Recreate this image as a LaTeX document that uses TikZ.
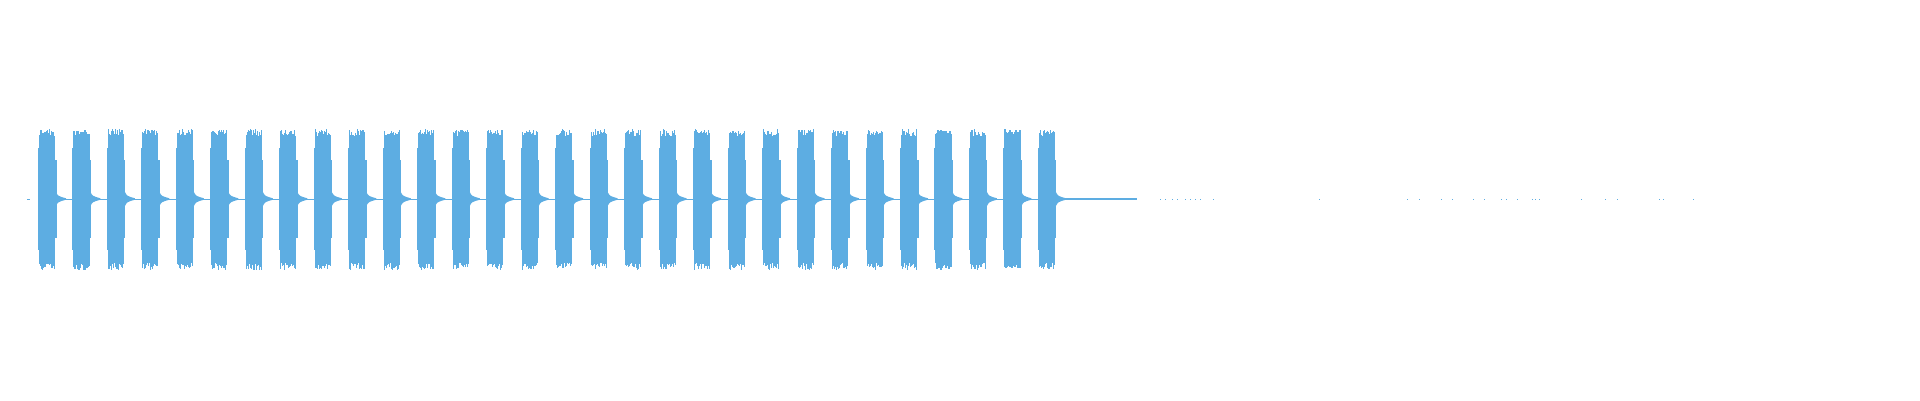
\documentclass[tikz,border=0pt]{standalone}
\definecolor{wave}{HTML}{5DADE2}
\begin{document}
\begin{tikzpicture}[x=1pt,y=-1pt]
\useasboundingbox (0,0) rectangle (1920,400);
\pgfmathsetseed{7}
\fill[wave] (27,198.5) rectangle (30,199.5);
\foreach \i in {0,...,29}{
  \pgfmathsetmacro\xa{38+34.48*\i}
  \fill[wave] (\xa,148) rectangle (\xa+1.2,250);
  \fill[wave] (\xa+1,137) rectangle (\xa+17,262);
  \foreach \k in {1,...,16}{
    \pgfmathsetmacro\t{129+7*rnd}
    \pgfmathsetmacro\b{263+7*rnd}
    \fill[wave] (\xa+\k,\t) rectangle (\xa+\k+1.05,\b);
  }
  \fill[wave] (\xa+17,160) rectangle (\xa+18.5,238);
  \fill[wave] (\xa+18,192) .. controls (\xa+20,196) .. (\xa+28,198.3)
     -- (\xa+28,199.7) .. controls (\xa+20,202) .. (\xa+18,206) -- cycle;
  \fill[wave] (\xa+17,198.5) rectangle (\xa+36,199.5);
}
\fill[wave] (1055,198) rectangle (1080,200);
\fill[wave] (1080,198.4) rectangle (1137,199.6);
\foreach \d in {1160,1165,1172,1177,1185,1190,1195,1200,1213,1319,1407,1419,1441,1452,1473,1484,1501,1506,1517,1532,1535,1539,1581,1605,1617,1659,1663,1693}{
  \fill[wave] (\d,198.5) rectangle (\d+1,199.5);
}
\end{tikzpicture}
\end{document}
